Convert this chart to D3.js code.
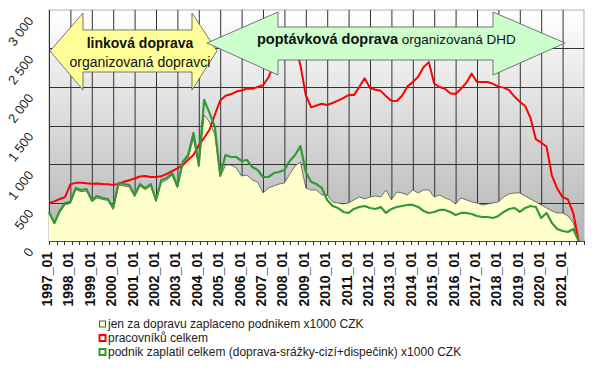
<!DOCTYPE html>
<html>
<head>
<meta charset="utf-8">
<script src="https://cdn.jsdelivr.net/npm/d3@7"></script>
<style>
  body { margin: 0; background: #fff; }
  svg { display: block; font-family: "Liberation Sans", Arial, sans-serif; }
</style>
</head>
<body>
<div id="chart"></div>
<script>
// Year labels on the category axis (one per January)
const yearLabels = ['1997_01', '1998_01', '1999_01', '2000_01', '2001_01', '2002_01', '2003_01',
    '2004_01', '2005_01', '2006_01', '2007_01', '2008_01', '2009_01', '2010_01', '2011_01',
    '2012_01', '2013_01', '2014_01', '2015_01', '2016_01', '2017_01', '2018_01', '2019_01',
    '2020_01', '2021_01'];

const yTicks = [0, 500, 1000, 1500, 2000, 2500, 3000];

// quarterly samples from 1997_01
const paidTransport = [360, 220, 370, 470, 490, 665, 640, 650, 510, 560, 540, 525, 410, 725, 715, 705, 575, 715, 665, 715,
    510, 765, 790, 855, 690, 990, 1075, 1330, 960, 1637, 1546, 1377, 831, 987, 987, 948, 844, 857, 792, 766,
    624, 688, 714, 740, 753, 870, 974, 1026, 688, 662, 662, 598, 598, 507, 494, 481, 494, 533, 572, 546,
    572, 585, 572, 662, 533, 636, 624, 598, 662, 624, 662, 662, 572, 598, 559, 533, 481, 559, 533, 507,
    494, 468, 481, 494, 507, 572, 611, 624, 624, 585, 546, 507, 468, 429, 390, 364, 364, 325, 234, 0];

const workers = [495, 515, 545, 570, 735, 755, 755, 750, 745, 748, 740, 736, 727, 742, 770, 790, 812, 838, 845, 830,
    830, 840, 872, 907, 943, 982, 1053, 1118, 1243, 1340, 1445, 1640, 1825, 1886, 1905, 1941, 1955, 1981, 1977, 2000,
    2025, 2120, 2295, 2480, 2560, 2600, 2560, 2280, 1895, 1735, 1760, 1782, 1766, 1792, 1822, 1855, 1895, 1895, 2003, 2113,
    1986, 1964, 1950, 1880, 1820, 1818, 1887, 2008, 2063, 2133, 2256, 2323, 2042, 2000, 1978, 1918, 1910, 1977, 2053, 2175,
    2065, 2065, 2065, 2040, 2005, 1992, 1960, 1876, 1808, 1752, 1600, 1320, 1280, 1225, 850, 680, 570, 540, 360, 0];

const paidTotal = [377, 234, 390, 494, 510, 688, 662, 675, 533, 585, 559, 546, 429, 753, 740, 727, 598, 740, 688, 740,
    533, 792, 818, 883, 714, 1026, 1117, 1403, 987, 1832, 1663, 1481, 857, 1117, 1091, 1091, 1039, 1052, 961, 922,
    831, 831, 883, 896, 922, 1039, 1117, 1234, 896, 766, 740, 688, 533, 455, 429, 377, 364, 416, 442, 455,
    429, 416, 442, 364, 416, 442, 455, 468, 468, 442, 390, 364, 377, 403, 403, 377, 338, 364, 364, 351,
    325, 312, 312, 299, 325, 377, 416, 429, 377, 429, 455, 442, 299, 364, 234, 156, 130, 117, 156, 0];

const legendLabels = [
    'jen za dopravu zaplaceno podnikem x1000 CZK',
    'pracovníků celkem',
    'podnik zaplatil celkem (doprava-srážky-cizí+dispečink) x1000 CZK'
];

function drawChart() {
    const width = 600, height = 375;
    const plot = { left: 49, right: 584, top: 10, bottom: 241 };

    const svg = d3.select('#chart').append('svg')
        .attr('width', width)
        .attr('height', height);

    // month index from 1997_01; the plot holds 25 years
    const x = d3.scaleLinear().domain([0, 300]).range([plot.left, plot.right]);
    const y = d3.scaleLinear().domain([0, 3000]).range([plot.bottom, plot.top]);
    const month = (d, i) => i * 3;

    const defs = svg.append('defs');
    const grad = defs.append('linearGradient')
        .attr('id', 'plotBg')
        .attr('x1', 0).attr('y1', 0).attr('x2', 0).attr('y2', 1);
    grad.append('stop').attr('offset', '0%').attr('stop-color', '#ffffff');
    grad.append('stop').attr('offset', '100%').attr('stop-color', '#b4b4b4');

    svg.append('rect')
        .attr('x', plot.left).attr('y', plot.top)
        .attr('width', plot.right - plot.left)
        .attr('height', plot.bottom - plot.top)
        .attr('fill', 'url(#plotBg)')
        .attr('stroke', '#b0b0b0')
        .attr('stroke-width', 1);

    // gridlines
    svg.append('g')
        .selectAll('line')
        .data(yearLabels)
        .enter()
        .append('line')
        .attr('x1', (d, i) => x(i * 12) + 0.5)
        .attr('x2', (d, i) => x(i * 12) + 0.5)
        .attr('y1', plot.top)
        .attr('y2', plot.bottom)
        .attr('stroke', '#333')
        .attr('stroke-width', 1);

    svg.append('g')
        .selectAll('line')
        .data(yTicks.filter(v => v > 0 && v < 3000))
        .enter()
        .append('line')
        .attr('x1', plot.left)
        .attr('x2', plot.right)
        .attr('y1', d => Math.round(y(d)) + 0.5)
        .attr('y2', d => Math.round(y(d)) + 0.5)
        .attr('stroke', '#333')
        .attr('stroke-width', 1);

    // area series
    const area = d3.area()
        .x((d, i) => x(month(d, i)))
        .y0(y(0))
        .y1(d => y(d));
    svg.append('path')
        .datum(paidTransport)
        .attr('d', area)
        .attr('fill', '#ffffcc');
    svg.append('path')
        .datum(paidTransport)
        .attr('d', d3.line().x((d, i) => x(month(d, i))).y(d => y(d)))
        .attr('fill', 'none')
        .attr('stroke', '#555')
        .attr('stroke-width', 0.8);

    const line = d3.line()
        .x((d, i) => x(month(d, i)))
        .y(d => y(d));

    svg.append('path')
        .datum(workers)
        .attr('d', line)
        .attr('fill', 'none')
        .attr('stroke', '#ff0000')
        .attr('stroke-width', 2)
        .attr('stroke-linejoin', 'round');

    svg.append('path')
        .datum(paidTotal)
        .attr('d', line)
        .attr('fill', 'none')
        .attr('stroke', '#339933')
        .attr('stroke-width', 2.2)
        .attr('stroke-linejoin', 'round');

    // x axis line and small ticks
    svg.append('line')
        .attr('x1', plot.left).attr('x2', plot.right)
        .attr('y1', plot.bottom + 0.5).attr('y2', plot.bottom + 0.5)
        .attr('stroke', '#3f5a30')
        .attr('stroke-width', 1);

    const tickScale = d3.scaleLinear().domain([0, 71]).range([plot.left, plot.right]);
    svg.append('g')
        .selectAll('line')
        .data(d3.range(72))
        .enter()
        .append('line')
        .attr('x1', d => Math.round(tickScale(d)) + 0.5)
        .attr('x2', d => Math.round(tickScale(d)) + 0.5)
        .attr('y1', plot.bottom)
        .attr('y2', plot.bottom + 4)
        .attr('stroke', '#333');

    // x labels
    svg.append('g')
        .selectAll('text')
        .data(yearLabels)
        .enter()
        .append('text')
        .attr('transform', (d, i) => `translate(${x(i * 12) - 2},252) rotate(-90)`)
        .attr('dy', '0.35em')
        .attr('text-anchor', 'end')
        .attr('font-size', 14)
        .attr('font-weight', 'bold')
        .attr('fill', '#111')
        .text(d => d);

    // y labels, slanted
    svg.append('g')
        .selectAll('text')
        .data(yTicks)
        .enter()
        .append('text')
        .attr('transform', d => `translate(34,${y(d) + 11}) rotate(-53)`)
        .attr('text-anchor', 'end')
        .attr('font-size', 13)
        .attr('fill', '#222')
        .text(d => d >= 1000 ? d3.format(',')(d).replace(',', ' ') : d);

    // arrows
    const arrowLine = d3.line();
    const yellowArrow = [[50, 51], [83, 13], [83, 30], [192, 30], [192, 13], [217, 51],
        [192, 90], [192, 72], [83, 72], [83, 90]];
    svg.append('path')
        .attr('d', arrowLine(yellowArrow) + 'Z')
        .attr('fill', '#ffff99')
        .attr('stroke', '#555')
        .attr('stroke-width', 0.8);

    const greenArrow = [[207, 43], [278, 12], [278, 27], [493, 27], [493, 12], [565, 43],
        [493, 75], [493, 60], [278, 60], [278, 75]];
    svg.append('path')
        .attr('d', arrowLine(greenArrow) + 'Z')
        .attr('fill', '#ccffcc')
        .attr('stroke', '#555')
        .attr('stroke-width', 0.8);

    svg.append('text')
        .attr('x', 140).attr('y', 48)
        .attr('text-anchor', 'middle')
        .attr('font-size', 14)
        .attr('font-weight', 'bold')
        .attr('fill', '#111')
        .text('linková doprava');
    svg.append('text')
        .attr('x', 140).attr('y', 67)
        .attr('text-anchor', 'middle')
        .attr('font-size', 14)
        .attr('fill', '#111')
        .text('organizovaná dopravci');

    const dhd = svg.append('text')
        .attr('x', 257).attr('y', 44)
        .attr('fill', '#111');
    dhd.append('tspan')
        .attr('font-size', 14.5)
        .attr('font-weight', 'bold')
        .text('poptávková doprava');
    dhd.append('tspan')
        .attr('font-size', 13.5)
        .text(' organizovaná DHD');

    // legend
    const legendColors = [
        { fill: '#ffffcc', stroke: '#555', width: 1 },
        { fill: '#ffffff', stroke: '#ff0000', width: 2 },
        { fill: '#ffffff', stroke: '#339933', width: 2 }
    ];
    const legend = svg.append('g')
        .selectAll('g')
        .data(legendLabels)
        .enter()
        .append('g')
        .attr('transform', (d, i) => `translate(99,${324 + i * 14})`);
    legend.append('rect')
        .attr('x', 0.5).attr('y', -3)
        .attr('width', 6).attr('height', 6)
        .attr('fill', (d, i) => legendColors[i].fill)
        .attr('stroke', (d, i) => legendColors[i].stroke)
        .attr('stroke-width', (d, i) => legendColors[i].width);
    legend.append('text')
        .attr('x', 9)
        .attr('dy', '0.35em')
        .attr('font-size', 12)
        .attr('fill', '#222')
        .text(d => d);
}

document.addEventListener('DOMContentLoaded', drawChart);
</script>
</body>
</html>
